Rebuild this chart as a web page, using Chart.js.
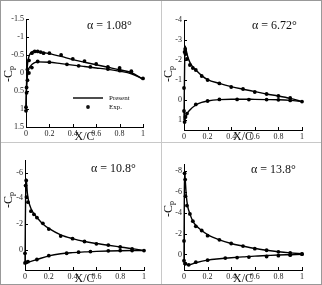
<!DOCTYPE html>
<html>
<head>
<meta charset="utf-8">
<script src="https://cdn.jsdelivr.net/npm/chart.js@4.4.1/dist/chart.umd.min.js"></script>
<style>
  body { margin: 0; background: #fff; }
  #wrap { position: relative; width: 322px; height: 285px; box-sizing: border-box; border: 1px solid #999; }
  canvas { position: absolute; }
  .vline { position: absolute; left: 160px; top: 0; width: 1px; height: 283px; background: #c8c8c8; }
  .hline { position: absolute; left: 0; top: 141px; width: 320px; height: 1px; background: #c8c8c8; }
</style>
</head>
<body>
<div id="wrap">
  <canvas id="p1" width="160" height="141" style="left:0;top:0"></canvas>
  <canvas id="p2" width="160" height="141" style="left:160px;top:0"></canvas>
  <canvas id="p3" width="160" height="142" style="left:0;top:141px"></canvas>
  <canvas id="p4" width="160" height="142" style="left:160px;top:141px"></canvas>
  <div class="vline"></div>
  <div class="hline"></div>
</div>
<script>
// angles of attack
const alphaLabels = ["α = 1.08°", "α = 6.72°", "α = 10.8°", "α = 13.8°"];
const xTicks = [0, 0.2, 0.4, 0.6, 0.8, 1];
const yTicks1 = [-1.5, -1, -0.5, 0, 0.5, 1, 1.5];
const yTicks2 = [-4, -3, -2, -1, 0, 1];
const yTicks3 = [-6, -4, -2, 0];
const yTicks4 = [-8, -6, -4, -2, 0];

// alpha = 1.08
const a1UpX = [0, 0.003, 0.008, 0.015, 0.03, 0.05, 0.075, 0.1, 0.15, 0.2, 0.3, 0.4, 0.5, 0.6, 0.7, 0.8, 0.9, 1.0];
const a1UpCp = [1.0, 0.5, 0.0, -0.3, -0.5, -0.58, -0.61, -0.6, -0.57, -0.54, -0.46, -0.37, -0.3, -0.23, -0.16, -0.09, -0.01, 0.17];
const a1LoX = [0, 0.004, 0.01, 0.02, 0.04, 0.07, 0.1, 0.2, 0.3, 0.4, 0.5, 0.6, 0.7, 0.8, 0.9, 1.0];
const a1LoCp = [1.0, 0.5, 0.15, -0.08, -0.2, -0.28, -0.31, -0.3, -0.26, -0.22, -0.18, -0.14, -0.1, -0.05, 0.02, 0.17];
const a1ExpUpX = [0.0, 0.005, 0.0125, 0.025, 0.05, 0.075, 0.1, 0.125, 0.15, 0.2, 0.3, 0.4, 0.5, 0.6, 0.7, 0.8, 0.9, 1.0];
const a1ExpUpCp = [1.05, 0.4, -0.1, -0.35, -0.55, -0.6, -0.6, -0.58, -0.55, -0.55, -0.5, -0.39, -0.33, -0.25, -0.17, -0.14, -0.05, 0.15];
const a1ExpLoX = [0.0, 0.005, 0.0125, 0.025, 0.05, 0.1, 0.2, 0.35, 0.45, 0.55, 0.7, 0.8, 0.9];
const a1ExpLoCp = [0.95, 0.55, 0.2, 0.0, -0.15, -0.32, -0.3, -0.24, -0.2, -0.17, -0.11, -0.07, -0.03];

// alpha = 6.72
const a2UpX = [0, 0.002, 0.005, 0.01, 0.02, 0.03, 0.05, 0.075, 0.1, 0.15, 0.2, 0.3, 0.4, 0.5, 0.6, 0.7, 0.8, 0.9, 1.0];
const a2UpCp = [1.0, 0.0, -1.6, -2.7, -2.45, -2.2, -1.88, -1.65, -1.5, -1.22, -1.02, -0.83, -0.67, -0.54, -0.42, -0.3, -0.2, -0.08, 0.08];
const a2LoX = [0, 0.008, 0.02, 0.05, 0.1, 0.15, 0.2, 0.3, 0.4, 0.5, 0.6, 0.7, 0.8, 0.9, 1.0];
const a2LoCp = [1.0, 1.0, 0.75, 0.5, 0.25, 0.12, 0.05, -0.02, -0.04, -0.04, -0.03, -0.02, -0.01, 0.02, 0.08];
const a2ExpUpX = [0.0, 0.005, 0.01, 0.0125, 0.025, 0.05, 0.075, 0.1, 0.15, 0.2, 0.3, 0.4, 0.5, 0.6, 0.7, 0.8, 0.9, 1.0];
const a2ExpUpCp = [-0.6, -2.4, -2.55, -2.3, -2.05, -1.75, -1.6, -1.5, -1.2, -1.0, -0.83, -0.65, -0.55, -0.4, -0.3, -0.2, -0.1, 0.08];
const a2ExpLoX = [0.0, 0.005, 0.0125, 0.025, 0.1, 0.2, 0.3, 0.45, 0.55, 0.7, 0.8, 0.9];
const a2ExpLoCp = [0.55, 1.1, 0.85, 0.68, 0.22, 0.05, -0.03, -0.03, -0.02, -0.02, -0.01, 0.02];

// alpha = 10.8
const a3UpX = [0, 0.002, 0.005, 0.01, 0.02, 0.03, 0.05, 0.075, 0.1, 0.15, 0.2, 0.3, 0.4, 0.5, 0.6, 0.7, 0.8, 0.9, 1.0];
const a3UpCp = [1.0, -1.0, -4.0, -5.5, -4.4, -3.8, -3.2, -2.8, -2.5, -2.0, -1.65, -1.15, -0.85, -0.63, -0.47, -0.33, -0.2, -0.07, 0.08];
const a3LoX = [0, 0.01, 0.02, 0.05, 0.1, 0.2, 0.3, 0.4, 0.5, 0.6, 0.7, 0.8, 0.9, 1.0];
const a3LoCp = [1.0, 1.0, 1.0, 0.92, 0.78, 0.5, 0.33, 0.24, 0.18, 0.14, 0.11, 0.09, 0.08, 0.08];
const a3ExpUpX = [0.0, 0.005, 0.01, 0.0125, 0.025, 0.05, 0.075, 0.1, 0.15, 0.2, 0.3, 0.4, 0.5, 0.6, 0.7, 0.8, 0.9, 1.0];
const a3ExpUpCp = [0.3, -5.0, -5.4, -4.1, -3.7, -3.0, -2.75, -2.5, -2.05, -1.6, -1.05, -0.85, -0.63, -0.45, -0.35, -0.2, -0.05, 0.08];
const a3ExpLoX = [0.0, 0.0125, 0.025, 0.1, 0.2, 0.35, 0.45, 0.55, 0.7, 0.8, 0.9];
const a3ExpLoCp = [1.05, 1.0, 0.95, 0.78, 0.48, 0.29, 0.21, 0.16, 0.1, 0.08, 0.08];

// alpha = 13.8
const a4UpX = [0, 0.001, 0.003, 0.006, 0.01, 0.02, 0.03, 0.05, 0.075, 0.1, 0.15, 0.2, 0.3, 0.4, 0.5, 0.6, 0.7, 0.8, 0.9, 1.0];
const a4UpCp = [1.0, -2.0, -6.0, -8.0, -7.3, -5.6, -4.7, -3.9, -3.2, -2.8, -2.3, -1.9, -1.4, -1.05, -0.8, -0.57, -0.4, -0.26, -0.15, -0.06];
const a4LoX = [0, 0.01, 0.02, 0.04, 0.1, 0.2, 0.3, 0.4, 0.5, 0.6, 0.7, 0.8, 0.9, 1.0];
const a4LoCp = [1.0, 0.8, 0.95, 1.0, 0.8, 0.55, 0.42, 0.32, 0.24, 0.16, 0.11, 0.06, 0.03, 0.0];
const a4ExpUpX = [0.0, 0.005, 0.01, 0.0125, 0.025, 0.05, 0.075, 0.1, 0.15, 0.2, 0.3, 0.4, 0.5, 0.6, 0.7, 0.8, 0.9, 1.0];
const a4ExpUpCp = [-1.3, -7.8, -7.2, -5.6, -4.7, -3.9, -3.2, -2.7, -2.3, -1.8, -1.4, -1.05, -0.8, -0.55, -0.4, -0.25, -0.15, -0.05];
const a4ExpLoX = [0.0, 0.0125, 0.04, 0.1, 0.2, 0.35, 0.45, 0.55, 0.7, 0.8, 0.9, 1.0];
const a4ExpLoCp = [0.6, 0.9, 1.0, 0.75, 0.55, 0.35, 0.3, 0.26, 0.2, 0.12, 0.07, -0.02];

const SERIF = "'Liberation Serif', 'Times New Roman', serif";
const pts = (xs, ys) => xs.map((x, i) => ({ x: x, y: ys[i] }));

function lineSet(xs, ys) {
    return { data: pts(xs, ys), showLine: true, borderColor: "#000", borderWidth: 1.4,
             pointRadius: 0, cubicInterpolationMode: "monotone", clip: false };
}
function expSet(xs, ys) {
    return { data: pts(xs, ys), showLine: false, pointRadius: 1.9, pointBackgroundColor: "#000",
             pointBorderWidth: 0, clip: false };
}

const decor = {
    id: "decor",
    afterDraw(chart, args, o) {
        const ctx = chart.ctx, a = chart.chartArea;
        const xs = chart.scales.x, ys = chart.scales.y;
        ctx.save();
        ctx.strokeStyle = "#000";
        ctx.lineWidth = 1;
        ctx.beginPath();
        o.yTicks.forEach(v => { const p = Math.round(ys.getPixelForValue(v)) + 0.5; ctx.moveTo(a.left, p); ctx.lineTo(a.left + 3, p); });
        xTicks.forEach(v => { const p = Math.round(xs.getPixelForValue(v)) + 0.5; ctx.moveTo(p, a.bottom); ctx.lineTo(p, a.bottom - 3); });
        ctx.stroke();
        ctx.fillStyle = "#111";
        ctx.textBaseline = "middle";
        ctx.textAlign = "left";
        ctx.font = "12px " + SERIF;
        ctx.fillText(o.alpha, o.ax, o.ay);
        // x title
        ctx.textAlign = "center";
        ctx.fillText("X/C", xs.getPixelForValue(0.5), chart.height - 5);
        // y title
        ctx.save();
        ctx.translate(8, o.ty);
        ctx.rotate(-Math.PI / 2);
        ctx.textAlign = "left";
        ctx.font = "12px " + SERIF;
        ctx.fillText("-C", -8, 0);
        ctx.font = "8px " + SERIF;
        ctx.fillText("p", 4, 3);
        ctx.restore();
        if (o.legend) {
            ctx.beginPath();
            ctx.lineWidth = 1.4;
            ctx.moveTo(72, 97); ctx.lineTo(102, 97);
            ctx.stroke();
            ctx.beginPath();
            ctx.arc(87, 106, 1.9, 0, Math.PI * 2);
            ctx.fill();
            ctx.font = "7px " + SERIF;
            ctx.textAlign = "left";
            ctx.fillText("Present", 108, 97);
            ctx.fillText("Exp.", 108, 106);
        }
        ctx.restore();
    }
};

function panel(id, sets, yTicks, ymin, ymax, box, extra) {
    const cv = document.getElementById(id);
    const W = cv.width, H = cv.height;
    new Chart(cv, {
        type: "scatter",
        data: { datasets: sets },
        plugins: [decor],
        options: {
            responsive: false,
            animation: false,
            layout: { padding: { left: 0, right: W - box.r, top: box.t, bottom: 0 } },
            plugins: { legend: { display: false }, tooltip: { enabled: false }, decor: extra },
            scales: {
                x: {
                    type: "linear", min: 0, max: 1,
                    afterBuildTicks: s => { s.ticks = xTicks.map(v => ({ value: v })); },
                    afterFit: s => { s.height = H - box.b; },
                    ticks: { font: { family: SERIF, size: 8 }, color: "#222", padding: 2, maxRotation: 0,
                             callback: v => String(v) },
                    grid: { display: true, drawOnChartArea: false, drawTicks: false },
                    border: { display: true, color: "#000", width: 1 }
                },
                y: {
                    type: "linear", min: ymin, max: ymax, reverse: true,
                    afterBuildTicks: s => { s.ticks = yTicks.map(v => ({ value: v })); },
                    afterFit: s => { s.width = box.l; },
                    ticks: { font: { family: SERIF, size: 8 }, color: "#222", padding: 2,
                             callback: v => String(v) },
                    grid: { display: true, drawOnChartArea: false, drawTicks: false },
                    border: { display: true, color: "#000", width: 1 }
                }
            }
        }
    });
}

panel("p1", [lineSet(a1UpX, a1UpCp), lineSet(a1LoX, a1LoCp), expSet(a1ExpUpX, a1ExpUpCp), expSet(a1ExpLoX, a1ExpLoCp)],
      yTicks1, -1.5, 1.5, { l: 25, r: 142, t: 18, b: 126 },
      { yTicks: yTicks1, alpha: alphaLabels[0], ax: 86, ay: 25, ty: 73, legend: true });
panel("p2", [lineSet(a2UpX, a2UpCp), lineSet(a2LoX, a2LoCp), expSet(a2ExpUpX, a2ExpUpCp), expSet(a2ExpLoX, a2ExpLoCp)],
      yTicks2, -4, 1.5, { l: 23, r: 141, t: 19, b: 129 },
      { yTicks: yTicks2, alpha: alphaLabels[1], ax: 91, ay: 25, ty: 73 });
panel("p3", [lineSet(a3UpX, a3UpCp), lineSet(a3LoX, a3LoCp), expSet(a3ExpUpX, a3ExpUpCp), expSet(a3ExpLoX, a3ExpLoCp)],
      yTicks3, -7, 1.6, { l: 24, r: 143, t: 18, b: 128 },
      { yTicks: yTicks3, alpha: alphaLabels[2], ax: 90, ay: 27, ty: 58 });
panel("p4", [lineSet(a4UpX, a4UpCp), lineSet(a4LoX, a4LoCp), expSet(a4ExpUpX, a4ExpUpCp), expSet(a4ExpLoX, a4ExpLoCp)],
      yTicks4, -8.7, 1.5, { l: 23, r: 141, t: 22, b: 128 },
      { yTicks: yTicks4, alpha: alphaLabels[3], ax: 90, ay: 28, ty: 67 });
</script>
</body>
</html>
